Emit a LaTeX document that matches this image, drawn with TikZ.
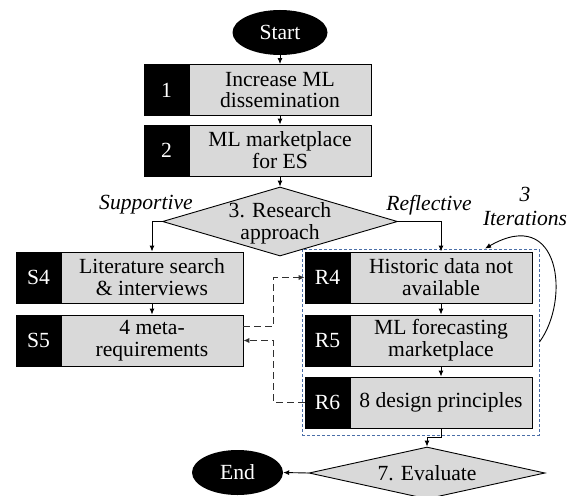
\documentclass[tikz,border=0pt]{standalone}
\usepackage{fontspec}
\setmainfont{Liberation Serif}
\usetikzlibrary{shapes.geometric,arrows.meta,calc}
\definecolor{boxgray}{HTML}{D9D9D9}
\definecolor{framebl}{HTML}{4A6EA8}
\definecolor{dashgray}{HTML}{303030}
\begin{document}
\begin{tikzpicture}[x=1pt,y=-1pt,
  every node/.style={font=\fontsize{21.6}{21.8}\selectfont},
  graybox/.style={draw=black, line width=0.9pt, fill=boxgray, minimum width=182pt, minimum height=51pt, align=center, inner sep=1pt},
  blackbox/.style={draw=black, line width=0.9pt, fill=black, text=white, minimum width=45pt, minimum height=51pt, inner sep=0pt},
  term/.style={ellipse, fill=black, text=white, inner sep=0pt},
  decision/.style={diamond, draw=black, line width=0.9pt, fill=boxgray, inner sep=0pt},
  frm/.style={draw=framebl, line width=0.9pt, dash pattern=on 3pt off 2pt, minimum width=237pt, minimum height=186pt, inner sep=0pt},
  conn/.style={line width=0.9pt, -{Latex[length=6pt,width=5pt]}},
  dashconn/.style={draw=dashgray, line width=1.5pt, dash pattern=on 7pt off 4pt, -{Latex[length=6pt,width=5.5pt]}},
  lbl/.style={font=\itshape\fontsize{21.6}{21.8}\selectfont, align=center, inner sep=0pt}
]
\useasboundingbox (0,0) rectangle (572,495);

% frame
\node[frm] (frame) at (420.5,342) {};

% terminals
\node[term, minimum width=95pt, minimum height=45pt] (start) at (280,32.5) {Start};
\node[term, minimum width=91pt, minimum height=45pt] (end) at (237.5,472.5) {End};

% main column
\node[graybox] (b1) at (280,90) {Increase ML\\dissemination};
\node[blackbox] (b1l) at (166.5,90) {1};
\node[graybox] (b2) at (280,150.5) {ML marketplace\\for ES};
\node[blackbox] (b2l) at (166.5,150.5) {2};

\node[decision, minimum width=235pt, minimum height=69pt] (d3) at (280,221.5) {};
\node[align=center, inner sep=0pt] (d3t) at (280,223) {3. Research\\approach};

% supportive branch
\node[graybox] (s4) at (152,277.5) {Literature search\\\& interviews};
\node[blackbox] (s4l) at (38.5,277.5) {S4};
\node[graybox] (s5) at (152,340.5) {4 meta-\\requirements};
\node[blackbox] (s5l) at (38.5,340.5) {S5};

% reflective branch
\node[graybox] (r4) at (441,277.5) {Historic data not\\available};
\node[blackbox] (r4l) at (327.5,277.5) {R4};
\node[graybox] (r5) at (441,340.5) {ML forecasting\\marketplace};
\node[blackbox] (r5l) at (327.5,340.5) {R5};
\node[graybox] (r6) at (441,402.5) {8 design principles};
\node[blackbox] (r6l) at (327.5,402.5) {R6};

% evaluate
\node[decision, minimum width=236pt, minimum height=52pt] (ev) at (427,473) {};
\node[inner sep=0pt] (evt) at (427,473) {7. Evaluate};

% labels
\node[lbl] (sup) at (146,205) {Supportive};
\node[lbl] (ref) at (429,205) {Reflective};
\node[lbl] (iter) at (525,206.5) {3\\[3pt]Iterations};

% connectors
\draw[conn] (start.south) -- (b1.north);
\draw[conn] (b1.south) -- (b2.north);
\draw[conn] (b2.south) -- (d3.north);
\draw[conn] (d3.west) -| (s4.north);
\draw[conn] (d3.east) -| (r4.north);
\draw[conn] (s4.south) -- (s5.north);
\draw[conn] (r4.south) -- (r5.north);
\draw[conn] (r5.south) -- (r6.north);
\draw[conn] (r6.south) |- ($(r6.south)!0.5!(ev.north)$) -| (ev.north);
\draw[conn] (ev.west) -- (end.east);

% dashed connectors
\draw[dashconn] ($(s5.east)+(0,-14)$) -| ($(r4l.west)+(-31,0)$) -- (r4l.west);
\draw[dashconn] (r6l.west) -- ($(r6l.west)+(-31,0)$) |- (s5.east);

% iteration loop
\draw[conn] (frame.east) .. controls ($(frame.east)+(31,-42)$) and ($(frame.east)+(21,-137)$) .. ($(frame.north)+(64.5,0)$);
\end{tikzpicture}
\end{document}
